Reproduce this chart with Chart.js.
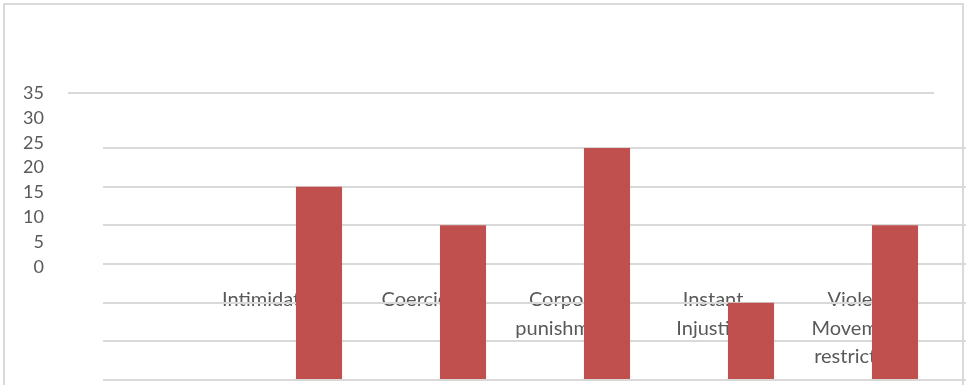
<!DOCTYPE html>
<html>
<head>
<meta charset="utf-8">
<script src="https://cdn.jsdelivr.net/npm/chart.js@4.4.1/dist/chart.umd.min.js"></script>
<style>
    body { margin: 0; background: #fff; overflow: hidden; }
    #marco {
        position: absolute; left: 3px; top: 3px; width: 961px; height: 420px;
        border: 2px solid #d9d9d9; box-sizing: border-box;
    }
    canvas { position: absolute; left: 0; top: 0; }
</style>
</head>
<body>
<div id="marco"></div>
<canvas id="graficoBarras" width="967" height="385"></canvas>
<canvas id="graficoEje" width="966" height="385"></canvas>
<script>
// Datos (la primera categoría está vacía en el original)
const categorias = [
    '',
    'Intimidation',
    'Coercion',
    ['Corporal', 'punishment'],
    ['Instant', 'Injustice'],
    ['Violent', 'Movement', 'restriction']
];
const valores = [null, 25, 20, 30, 10, 20];

// Etiquetas del eje de la izquierda (el eje suelto)
const ticksEje = [0, 5, 10, 15, 20, 25, 30, 35];

const grisTexto = '#595959';
const grisLinea = '#d9d9d9';
const rojo = '#c0504d';

Chart.defaults.animation = false;
Chart.defaults.font.family = 'Lato, "Open Sans", sans-serif';

// Plugin: etiquetas de categoría dibujadas dentro del área, debajo de las barras
// (en el original quedan algo desplazadas a la izquierda y un poco más separadas)
const etiquetasCategoria = {
    id: 'etiquetasCategoria',
    beforeDraw(chart) {
        const ctx = chart.ctx;
        const x = chart.scales.x;
        const centro = x.getPixelForValue(3);
        ctx.save();
        ctx.font = '20px Lato, "Open Sans", sans-serif';
        ctx.fillStyle = grisTexto;
        ctx.textAlign = 'center';
        ctx.textBaseline = 'middle';
        categorias.forEach((cat, i) => {
            if (!cat) return;
            const lineas = Array.isArray(cat) ? cat : [cat];
            const px = centro - 40 + (x.getPixelForValue(i) - centro) * 1.014;
            lineas.forEach((l, k) => ctx.fillText(l, px, 300 + k * 28.5));
        });
        ctx.restore();
    }
};

// Gráfico de barras
new Chart(document.getElementById('graficoBarras').getContext('2d'), {
    type: 'bar',
    data: {
        labels: categorias,
        datasets: [{
            data: valores,
            backgroundColor: rojo,
            barPercentage: 0.32,
            categoryPercentage: 1
        }]
    },
    options: {
        responsive: false,
        devicePixelRatio: 1,
        layout: { padding: { left: 103, top: 148, right: 0, bottom: 5 } },
        plugins: { legend: { display: false }, tooltip: { enabled: false } },
        scales: {
            x: { display: false },
            y: {
                min: 0,
                max: 30,
                ticks: { display: false, stepSize: 5 },
                grid: { color: grisLinea, lineWidth: 2, drawTicks: false },
                border: { display: false }
            }
        }
    },
    plugins: [etiquetasCategoria]
});

// Eje suelto con las marcas 0..35
new Chart(document.getElementById('graficoEje').getContext('2d'), {
    type: 'bar',
    data: { labels: [''], datasets: [] },
    options: {
        responsive: false,
        devicePixelRatio: 1,
        layout: { padding: { left: 0, top: 93, right: 32, bottom: 118 } },
        plugins: { legend: { display: false }, tooltip: { enabled: false } },
        scales: {
            x: { display: false },
            y: {
                min: ticksEje[0],
                max: ticksEje[ticksEje.length - 1],
                afterFit(scale) { scale.width = 68; },
                ticks: {
                    stepSize: ticksEje[1] - ticksEje[0],
                    padding: 24,
                    color: grisTexto,
                    font: { size: 18 }
                },
                grid: {
                    drawTicks: false,
                    lineWidth: 2,
                    color: c => c.tick && c.tick.value === ticksEje[ticksEje.length - 1] ? grisLinea : 'rgba(0,0,0,0)'
                },
                border: { display: false }
            }
        }
    }
});
</script>
</body>
</html>
